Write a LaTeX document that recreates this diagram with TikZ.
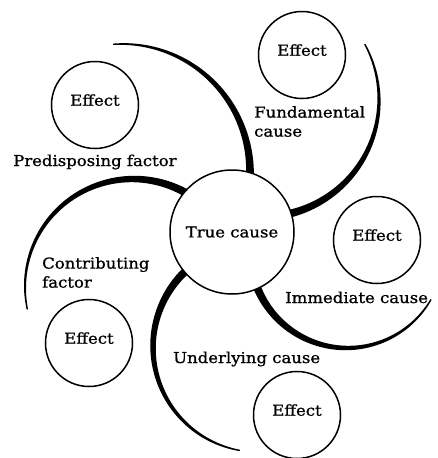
\documentclass[tikz,border=0pt]{standalone}
\usepackage{fontspec}
\setmainfont[FakeStretch=1.1,FakeBold=1]{DejaVu Serif}

\begin{document}
\begin{tikzpicture}[x=1pt,y=-1pt,font=\fontsize{15}{19}\selectfont,
	effect/.style={circle,draw,line width=1.5pt,minimum size=87pt,inner sep=0pt,text depth=10pt},
	lbl/.style={align=left,inner sep=0pt}]
	\useasboundingbox (0,0) rectangle (437,458);
	% swirl arms: centre, radius, thick end, thin end
	\foreach \cx/\cy/\rad/\a/\b in {122/172/128/4/-94, 262/100/117/79/-28.5, 347/251/97/161/30, 258/347/105/229/100, 133/287/108/-58/-192}
		\fill plot[smooth,samples=60,domain=\a:\b]({\cx+(\rad+0.7+3.3*(\x-\b)/(\a-\b))*cos(\x)},{\cy+(\rad+0.7+3.3*(\x-\b)/(\a-\b))*sin(\x)})
			--plot[smooth,samples=60,domain=\b:\a]({\cx+(\rad-0.7-3.3*(\x-\b)/(\a-\b))*cos(\x)},{\cy+(\rad-0.7-3.3*(\x-\b)/(\a-\b))*sin(\x)})--cycle;
	\node[circle,draw,fill=white,line width=1.5pt,minimum size=124pt,inner sep=0pt] (tc) at (232,232) {True cause};
	\node[effect] (fund) at (302,55) {Effect};
	\node[effect] (pred) at (95,105) {Effect};
	\node[effect] (imm) at (377,240) {Effect};
	\node[effect] (contr) at (89,343) {Effect};
	\node[effect] (under) at (297,415) {Effect};
	\node[lbl,anchor=north west] (fundtxt) at (254,106) {Fundamental\\cause};
	\node[lbl,anchor=base west] (predtxt) at (13,166) {Predisposing factor};
	\node[lbl,anchor=north west] (contrtxt) at (42,257) {Contributing\\factor};
	\node[lbl,anchor=base west] (immtxt) at (285,303) {Immediate cause};
	\node[lbl,anchor=base west] (undertxt) at (173,363) {Underlying cause};
\end{tikzpicture}
\end{document}
